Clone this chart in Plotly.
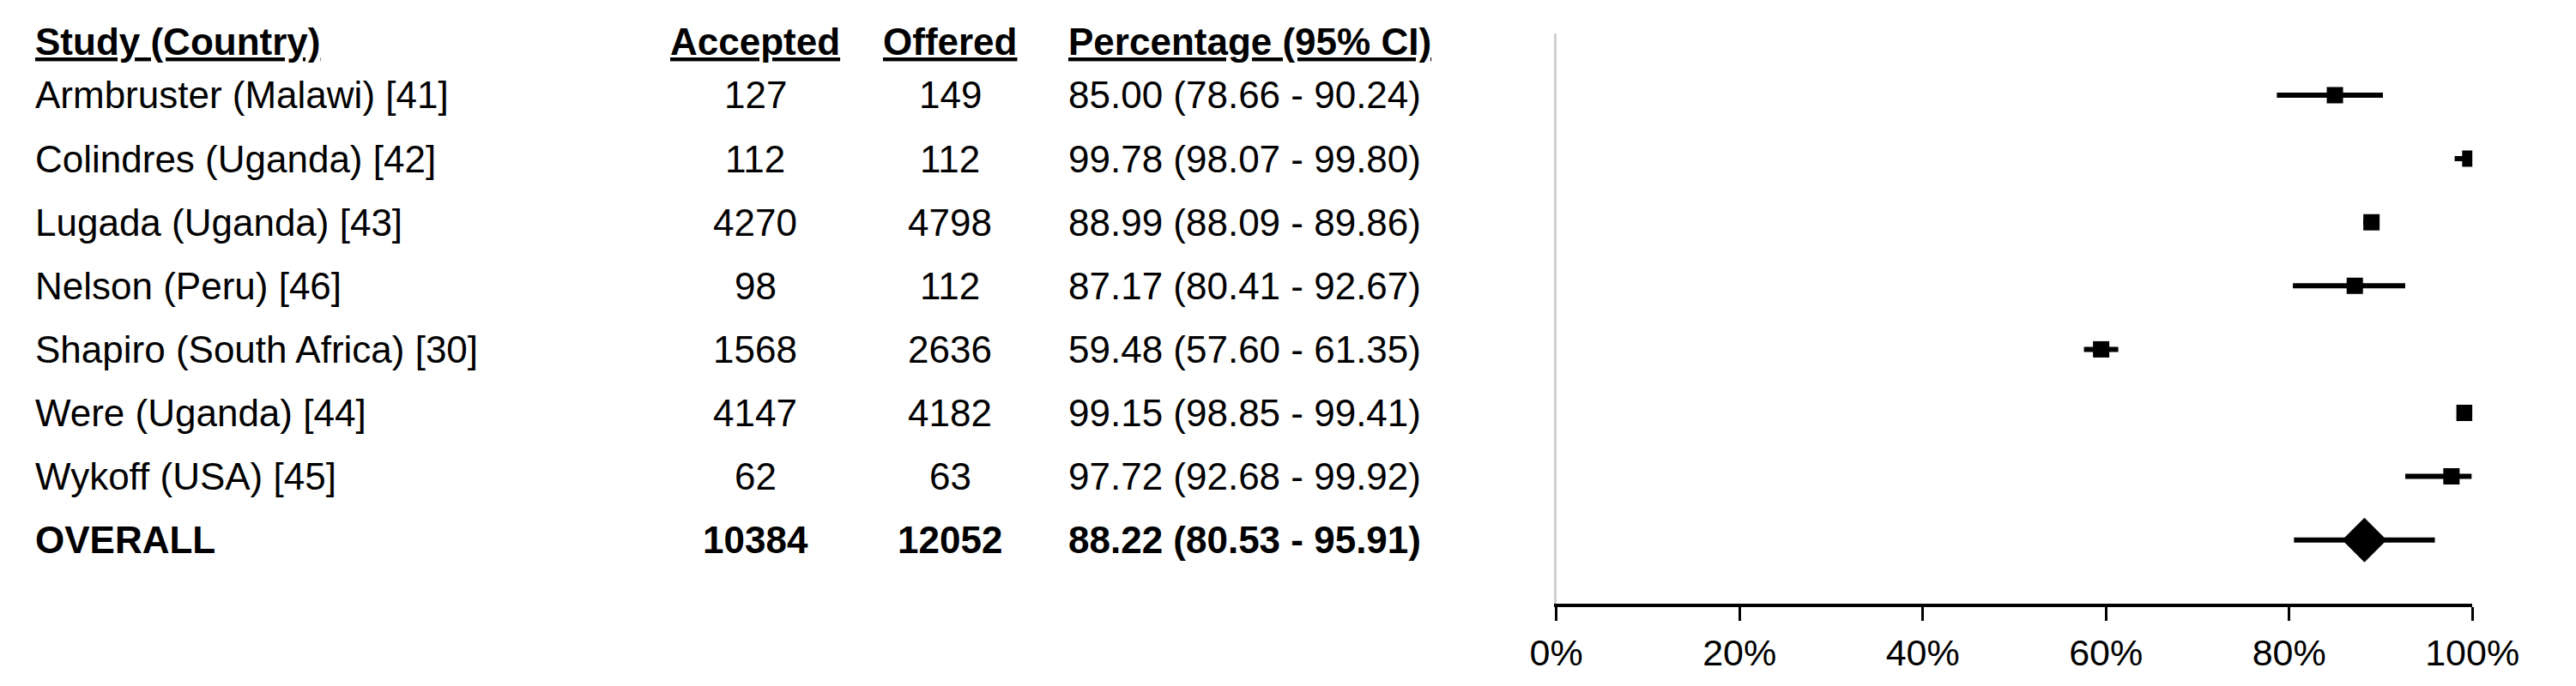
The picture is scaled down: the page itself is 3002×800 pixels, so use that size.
import plotly.graph_objects as go

studies = ["Armbruster (Malawi) [41]", "Colindres (Uganda) [42]", "Lugada (Uganda) [43]",
           "Nelson (Peru) [46]", "Shapiro (South Africa) [30]", "Were (Uganda) [44]",
           "Wykoff (USA) [45]", "OVERALL"]
accepted = [127, 112, 4270, 98, 1568, 4147, 62, 10384]
offered = [149, 112, 4798, 112, 2636, 4182, 63, 12052]
pct = [85.00, 99.78, 88.99, 87.17, 59.48, 99.15, 97.72, 88.22]
lo = [78.66, 98.07, 88.09, 80.41, 57.60, 98.85, 92.68, 80.53]
hi = [90.24, 99.80, 89.86, 92.67, 61.35, 99.41, 99.92, 95.91]
tick_vals = [0, 20, 40, 60, 80, 100]
tick_text = ["0%", "20%", "40%", "60%", "80%", "100%"]

W, H = 3002, 800
FONT = "Liberation Sans"
FS = 44
n = len(studies)
rows = list(range(n))

fig = go.Figure()
fig.add_trace(go.Scatter(
    x=pct[:-1], y=rows[:-1], mode="markers",
    marker=dict(symbol="square", size=19, color="black"),
    error_x=dict(type="data", symmetric=False,
                 array=[h - p for h, p in zip(hi[:-1], pct[:-1])],
                 arrayminus=[p - l for p, l in zip(pct[:-1], lo[:-1])],
                 thickness=6, width=0, color="black"),
    showlegend=False))
fig.add_trace(go.Scatter(
    x=pct[-1:], y=rows[-1:], mode="markers",
    marker=dict(symbol="diamond", size=40, color="black"),
    error_x=dict(type="data", symmetric=False,
                 array=[hi[-1] - pct[-1]], arrayminus=[pct[-1] - lo[-1]],
                 thickness=6, width=0, color="black"),
    showlegend=False))

top_px, bot_px = 31, 696
row0, step = 103, 74.1
def ypx_to_row(p):
    return (p - row0) / step

def ann(text, xpx, row, anchor):
    fig.add_annotation(text=text, xref="paper", x=xpx / W, yref="y", y=row,
                       xanchor=anchor, yanchor="middle", showarrow=False,
                       font=dict(family=FONT, size=FS, color="black"))

X_STUDY, X_ACC, X_OFF, X_PCT = 0, 866, 1100, 1240
hdr = ypx_to_row(41)
ann("<b><u>Study (Country)</u></b>", X_STUDY, hdr, "left")
ann("<b><u>Accepted</u></b>", X_ACC, hdr, "center")
ann("<b><u>Offered</u></b>", X_OFF, hdr, "center")
ann("<b><u>Percentage (95% CI)</u></b>", X_PCT, hdr, "left")

for i in rows:
    b = (lambda s: f"<b>{s}</b>") if i == n - 1 else (lambda s: s)
    ann(b(studies[i]), X_STUDY, i, "left")
    ann(b(str(accepted[i])), X_ACC, i, "center")
    ann(b(str(offered[i])), X_OFF, i, "center")
    ann(b(f"{pct[i]:.2f} ({lo[i]:.2f} - {hi[i]:.2f})"), X_PCT, i, "left")

fig.update_layout(
    width=W, height=H, margin=dict(l=0, r=0, t=0, b=0),
    plot_bgcolor="white", paper_bgcolor="white",
    font=dict(family=FONT, size=FS, color="black"),
    xaxis=dict(domain=[1827 / W, 2926 / W], range=[0, 100], tickvals=tick_vals,
               ticktext=tick_text, showgrid=False, zeroline=False,
               showline=True, linecolor="black", linewidth=4,
               ticks="outside", ticklen=16, tickwidth=3, tickcolor="black",
               tickfont=dict(family=FONT, size=43)),
    yaxis=dict(domain=[1 - bot_px / H, 1 - top_px / H],
               range=[ypx_to_row(bot_px), ypx_to_row(top_px)],
               showgrid=False, zeroline=False, showticklabels=False,
               showline=True, linecolor="#d0d0d0", linewidth=3),
)
fig.write_html("out.html")
